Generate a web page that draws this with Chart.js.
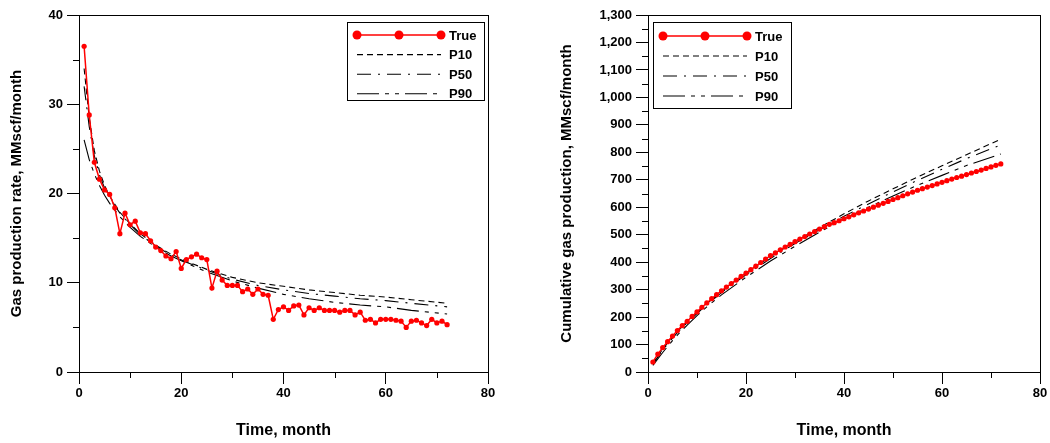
<!DOCTYPE html>
<html>
<head>
<meta charset="utf-8">
<script src="https://cdn.jsdelivr.net/npm/chart.js@4.4.0/dist/chart.umd.min.js"></script>
<style>
html, body { margin: 0; padding: 0; background: #fff; }
#wrap { position: relative; width: 1050px; height: 443px; }
.box { position: absolute; top: 0; width: 525px; height: 443px; }
</style>
</head>
<body>
<div id="wrap">
  <div class="box" style="left:0"><canvas id="rateChart" width="525" height="443"></canvas></div>
  <div class="box" style="left:525px"><canvas id="cumChart" width="525" height="443"></canvas></div>
</div>
<script>
// Mjeseci proizvodnje (x osa)
const months = [1, 2, 3, 4, 5, 6, 7, 8, 9, 10, 11, 12, 13, 14, 15, 16, 17, 18, 19, 20,
  21, 22, 23, 24, 25, 26, 27, 28, 29, 30, 31, 32, 33, 34, 35, 36, 37, 38, 39, 40,
  41, 42, 43, 44, 45, 46, 47, 48, 49, 50, 51, 52, 53, 54, 55, 56, 57, 58, 59, 60,
  61, 62, 63, 64, 65, 66, 67, 68, 69, 70, 71, 72];

// Stvarna proizvodnja gasa, MMscf/month
const trueRate = [36.5, 28.8, 23.5, 21.6, 20.4, 19.9, 18.4, 15.5, 17.8, 16.5,
  16.9, 15.6, 15.5, 14.7, 14.0, 13.6, 13.0, 12.7, 13.5, 11.6,
  12.6, 12.9, 13.2, 12.8, 12.6, 9.4, 11.3, 10.3, 9.7, 9.7,
  9.7, 9.0, 9.3, 8.7, 9.3, 8.7, 8.6, 5.9, 7.0, 7.3,
  6.9, 7.4, 7.5, 6.4, 7.2, 6.9, 7.2, 6.9, 6.9, 6.9,
  6.7, 6.9, 6.9, 6.4, 6.7, 5.8, 5.9, 5.5, 5.9, 5.9,
  5.9, 5.8, 5.7, 5.0, 5.7, 5.8, 5.5, 5.2, 5.9, 5.5, 5.7, 5.3];

// Kumulativna stvarna proizvodnja, MMscf
const trueCum = [36.5, 65.3, 88.8, 110.4, 130.8, 150.7, 169.1, 184.6, 202.4, 218.9,
  235.8, 251.4, 266.9, 281.6, 295.6, 309.2, 322.2, 334.9, 348.4, 360.0,
  372.6, 385.5, 398.7, 411.5, 424.1, 433.5, 444.8, 455.1, 464.8, 474.5,
  484.2, 493.2, 502.5, 511.2, 520.5, 529.2, 537.8, 543.7, 550.7, 558.0,
  564.9, 572.3, 579.8, 586.2, 593.4, 600.3, 607.5, 614.4, 621.3, 628.2,
  634.9, 641.8, 648.7, 655.1, 661.8, 667.6, 673.5, 679.0, 684.9, 690.8,
  696.7, 702.5, 708.2, 713.2, 718.9, 724.7, 730.2, 735.4, 741.3, 746.8, 752.5, 757.8];

// Prognoze P10/P50/P90 - protok
const pRateMonths = [1, 2, 3, 4, 5, 6, 8, 10, 12, 15, 18, 21, 25, 30, 35, 40, 45, 50, 55, 60, 65, 72];
const p10Rate = [34, 28.5, 24.8, 22.5, 20.9, 19.7, 17.9, 16.6, 15.5, 14.2, 13.2, 12.4, 11.5, 10.6, 10.0, 9.6, 9.2, 8.9, 8.6, 8.4, 8.1, 7.7];
const p50Rate = [32, 27.5, 24.2, 22.1, 20.6, 19.5, 17.8, 16.5, 15.4, 14.1, 13.1, 12.3, 11.4, 10.4, 9.7, 9.2, 8.8, 8.5, 8.2, 8.0, 7.7, 7.3];
const p90Rate = [26, 23.8, 22.2, 20.9, 19.8, 18.9, 17.4, 16.2, 15.2, 14.0, 13.0, 12.2, 11.2, 10.2, 9.4, 8.7, 8.2, 7.8, 7.5, 7.3, 6.9, 6.5];

// Prognoze P10/P50/P90 - kumulativno
const pCumMonths = [1, 2, 3, 4, 5, 6, 8, 10, 12, 15, 20, 25, 30, 35, 40, 45, 50, 55, 60, 65, 72];
const p10Cum = [30, 58, 83, 106, 127, 147, 184, 217, 249, 293, 360, 420, 475, 526, 576, 623, 667, 710, 751, 791, 848];
const p50Cum = [28, 55, 80, 102, 123, 143, 180, 213, 245, 289, 354, 413, 468, 518, 567, 612, 656, 698, 738, 777, 827];
const p90Cum = [24, 48, 71, 93, 114, 134, 171, 205, 237, 281, 345, 404, 458, 509, 558, 600, 641, 680, 716, 752, 794];

const seriesNames = ['True', 'P10', 'P50', 'P90'];
const xTitle = 'Time, month';
const rateTitle = 'Gas production rate, MMscf/month';
const cumTitle = 'Cumulative gas production, MMscf/month';

const FONT = "'Liberation Sans', Arial, sans-serif";
const RED = '#ff0000';

function pts(xs, ys) {
  return xs.map((x, i) => ({ x: x, y: ys[i] }));
}

function buildDatasets(trueVals, pMonths, p10, p50, p90) {
  return [
    { label: seriesNames[0], data: pts(months, trueVals), borderColor: RED, backgroundColor: RED,
      borderWidth: 1.5, pointRadius: 2.6, pointBorderWidth: 0, order: 0 },
    { label: seriesNames[1], data: pts(pMonths, p10), borderColor: '#000', borderWidth: 1.1,
      borderDash: [6, 4], pointRadius: 0, order: 1 },
    { label: seriesNames[2], data: pts(pMonths, p50), borderColor: '#000', borderWidth: 1.1,
      borderDash: [14, 7, 2, 7], pointRadius: 0, order: 2 },
    { label: seriesNames[3], data: pts(pMonths, p90), borderColor: '#000', borderWidth: 1.1,
      borderDash: [22, 6, 4, 6, 4, 6], pointRadius: 0, order: 3 }
  ];
}

// Okvir oko grafika + sporedne crtice na osama
const framePlugin = {
  id: 'frame',
  afterDraw(chart) {
    const a = chart.chartArea;
    const ctx = chart.ctx;
    ctx.save();
    ctx.strokeStyle = '#000';
    ctx.lineWidth = 1;
    ctx.setLineDash([]);
    ctx.strokeRect(Math.round(a.left) + 0.5, Math.round(a.top) + 0.5,
      Math.round(a.right - a.left), Math.round(a.bottom - a.top));
    ['x', 'y'].forEach(id => {
      const s = chart.scales[id];
      const minor = s.options.minorStep;
      const major = s.options.ticks.stepSize;
      for (let v = s.min + minor; v < s.max; v += minor) {
        if (Math.abs(v / major - Math.round(v / major)) < 1e-6) continue;
        const p = Math.round(s.getPixelForValue(v)) + 0.5;
        ctx.beginPath();
        if (id === 'x') {
          ctx.moveTo(p, Math.round(a.bottom));
          ctx.lineTo(p, Math.round(a.bottom) + 6);
        } else {
          ctx.moveTo(Math.round(a.left) - 6, p);
          ctx.lineTo(Math.round(a.left), p);
        }
        ctx.stroke();
      }
    });
    ctx.restore();
  }
};

// Legenda u okviru unutar grafika
const boxLegendPlugin = {
  id: 'boxLegend',
  afterDraw(chart, args, opts) {
    const ctx = chart.ctx;
    ctx.save();
    ctx.fillStyle = '#fff';
    ctx.fillRect(opts.x, opts.y, opts.w, opts.h);
    ctx.strokeStyle = '#000';
    ctx.lineWidth = 1;
    ctx.setLineDash([]);
    ctx.strokeRect(opts.x + 0.5, opts.y + 0.5, opts.w, opts.h);
    ctx.font = 'bold 13px ' + FONT;
    ctx.textBaseline = 'middle';
    chart.data.datasets.forEach((ds, i) => {
      const y = opts.y + opts.first + i * opts.gap;
      const x0 = opts.x + 10;
      const x1 = x0 + 84;
      ctx.strokeStyle = ds.borderColor;
      ctx.lineWidth = ds.borderWidth;
      ctx.setLineDash(ds.borderDash || []);
      ctx.beginPath();
      ctx.moveTo(x0, y);
      ctx.lineTo(x1, y);
      ctx.stroke();
      ctx.setLineDash([]);
      if (ds.pointRadius > 0) {
        ctx.fillStyle = ds.backgroundColor;
        [x0, (x0 + x1) / 2, x1].forEach(px => {
          ctx.beginPath();
          ctx.arc(px, y, 4.5, 0, Math.PI * 2);
          ctx.fill();
        });
      }
      ctx.fillStyle = '#000';
      ctx.fillText(ds.label, opts.x + 102, y + 1);
    });
    ctx.restore();
  }
};

function makeChart(canvasId, datasets, cfg) {
  return new Chart(document.getElementById(canvasId), {
    type: 'line',
    data: { datasets: datasets },
    options: {
      responsive: false,
      animation: false,
      layout: { padding: cfg.padding },
      plugins: {
        legend: { display: false },
        tooltip: { enabled: false },
        boxLegend: cfg.legend
      },
      scales: {
        x: {
          type: 'linear', min: 0, max: 80, minorStep: 10,
          afterFit: s => { s.height = 71; },
          ticks: { stepSize: 20, color: '#000', padding: 2, maxRotation: 0,
            font: { family: FONT, size: 13, weight: 'bold' } },
          grid: { drawOnChartArea: false, tickLength: 12, tickColor: '#000' },
          border: { color: '#000' },
          title: { display: true, text: xTitle, color: '#000', padding: { top: 0, bottom: 3 },
            font: { family: FONT, size: 16, weight: 'bold' } }
        },
        y: {
          min: 0, max: cfg.yMax, minorStep: cfg.yMinor,
          afterFit: s => { s.width = cfg.yWidth; },
          ticks: { stepSize: cfg.yStep, color: '#000', padding: 4,
            callback: v => v.toLocaleString('en-US'),
            font: { family: FONT, size: 13, weight: 'bold' } },
          grid: { drawOnChartArea: false, tickLength: 12, tickColor: '#000' },
          border: { color: '#000' },
          title: { display: true, text: cfg.yTitle, color: '#000', padding: { top: cfg.yTitlePad, bottom: 0 },
            font: { family: FONT, size: 15, weight: 'bold' } }
        }
      }
    },
    plugins: [framePlugin, boxLegendPlugin]
  });
}

makeChart('rateChart', buildDatasets(trueRate, pRateMonths, p10Rate, p50Rate, p90Rate), {
  padding: { top: 15, right: 37, bottom: 0, left: 0 },
  yMax: 40, yStep: 10, yMinor: 5, yWidth: 79, yTitle: rateTitle, yTitlePad: 8,
  legend: { x: 347, y: 22, w: 137, h: 78, first: 13, gap: 19.6 }
});

makeChart('cumChart', buildDatasets(trueCum, pCumMonths, p10Cum, p50Cum, p90Cum), {
  padding: { top: 15, right: 10, bottom: 0, left: 0 },
  yMax: 1300, yStep: 100, yMinor: 50, yWidth: 123, yTitle: cumTitle, yTitlePad: 33,
  legend: { x: 128, y: 22, w: 138, h: 86, first: 14, gap: 20 }
});
</script>
</body>
</html>
